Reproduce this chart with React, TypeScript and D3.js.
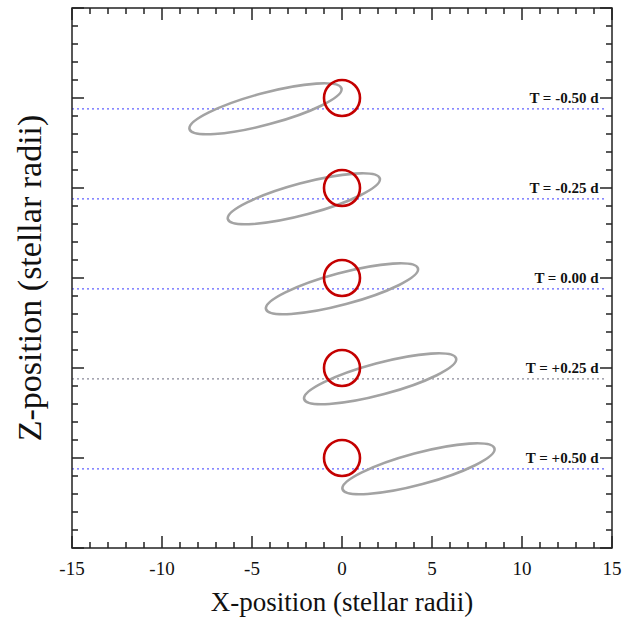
import React from "react";
import * as d3 from "d3";

const W = 634;
const H = 618;

const xDomain = [-15, 15];
const zDomain = [-15, 15];
const xTickLabels = [-15, -10, -5, 0, 5, 10, 15];

// Epochs
const epochLabels = ["T = -0.50 d", "T = -0.25 d", "T = 0.00 d", "T = +0.25 d", "T = +0.50 d"];
// Star (circle) vertical positions, stellar radii
const starZ = [10, 5, 0, -5, -10];
// Companion ellipse centers (x) and reference line offsets (z)
const ellipseX = [-4.25, -2.12, 0, 2.12, 4.25];
const lineZ = [9.4, 4.4, -0.6, -5.6, -10.6];
const lineColors = ["#3a3aff", "#3a3aff", "#3a3aff", "#6a6a80", "#3a3aff"];
// Ellipse geometry (stellar radii / degrees)
const ellA = 4.37;
const ellB = 0.88;
const ellTilt = 15;
const starR = 1;

const margin = { left: 72, right: 22, top: 8, bottom: 70 };

export default function App() {
  const x = d3.scaleLinear().domain(xDomain).range([margin.left, W - margin.right]);
  const y = d3.scaleLinear().domain(zDomain).range([H - margin.bottom, margin.top]);
  const x0 = x.range()[0], x1 = x.range()[1];
  const y0 = y.range()[1], y1 = y.range()[0];
  const minor = d3.range(-15, 16, 1);
  const font = "'Liberation Serif', 'Times New Roman', serif";
  const pxPerUnit = x(1) - x(0);

  return (
    <svg width={W} height={H} style={{ position: "absolute", left: 0, top: 0, background: "#fff" }}>
      {/* reference dotted lines */}
      {lineZ.map((z, i) => (
        <line key={"l" + i} x1={x0} x2={x(14.7)} y1={y(z)} y2={y(z)} stroke={lineColors[i]}
          strokeOpacity={0.8} strokeWidth={1.3} strokeDasharray="2,3" />
      ))}
      {/* ellipses */}
      {ellipseX.map((cx, i) => (
        <ellipse key={"e" + i} cx={x(cx)} cy={y(lineZ[i])} rx={ellA * pxPerUnit} ry={ellB * pxPerUnit}
          transform={`rotate(${-ellTilt} ${x(cx)} ${y(lineZ[i])})`}
          fill="none" stroke="#a3a3a3" strokeWidth={2.6} />
      ))}
      {/* star circles */}
      {starZ.map((z, i) => (
        <circle key={"c" + i} cx={x(0)} cy={y(z)} r={starR * pxPerUnit} fill="none" stroke="#c40000" strokeWidth={2.6} />
      ))}
      {/* labels */}
      {epochLabels.map((t, i) => (
        <text key={"t" + i} x={x(14.25)} y={y(starZ[i]) + 4.5} textAnchor="end" fontFamily={font}
          fontWeight="bold" fontSize={15} fill="#111">{t}</text>
      ))}
      {/* frame */}
      <rect x={x0} y={y0} width={x1 - x0} height={y1 - y0} fill="none" stroke="#222" strokeWidth={1.5} />
      {/* x ticks bottom & top */}
      {minor.map((v) => {
        const len = v % 5 === 0 ? 12 : 6;
        return (
          <g key={"xt" + v} stroke="#222" strokeWidth={1.5}>
            <line x1={x(v)} x2={x(v)} y1={y1} y2={y1 - len} />
            <line x1={x(v)} x2={x(v)} y1={y0} y2={y0 + len} />
          </g>
        );
      })}
      {/* y ticks left & right */}
      {minor.map((v) => {
        const len = v % 5 === 0 ? 12 : 6;
        return (
          <g key={"yt" + v} stroke="#222" strokeWidth={1.5}>
            <line x1={x0} x2={x0 + len} y1={y(v)} y2={y(v)} />
            <line x1={x1} x2={x1 - len} y1={y(v)} y2={y(v)} />
          </g>
        );
      })}
      {xTickLabels.map((v) => (
        <text key={"xl" + v} x={x(v)} y={y1 + 27} textAnchor="middle" fontFamily={font} fontSize={19} fill="#111">{v}</text>
      ))}
      <text x={(x0 + x1) / 2} y={611} textAnchor="middle" fontFamily={font} fontSize={27} fill="#111">X-position (stellar radii)</text>
      <text transform={`translate(41 ${(y0 + y1) / 2}) rotate(-90)`} textAnchor="middle" fontFamily={font}
        fontSize={34} fill="#111">Z-position (stellar radii)</text>
    </svg>
  );
}
